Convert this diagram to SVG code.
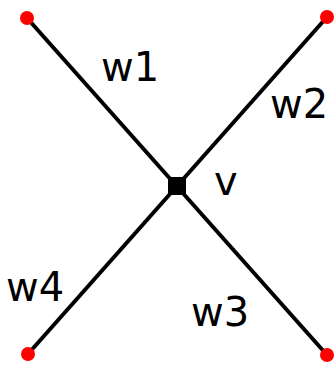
<svg xmlns="http://www.w3.org/2000/svg" width="336" height="365" viewBox="0 0 336 365">
<style>
.edge{stroke:#000;stroke-width:4;fill:none}
.dot{fill:#f00}
.lbl{font-family:"DejaVu Sans",sans-serif;font-size:40px;fill:#000}
</style>
<rect width="336" height="365" fill="#fff"/>
<g id="connectors">
<line class="edge" x1="27" y1="18" x2="327" y2="355"/>
<line class="edge" x1="327" y1="17" x2="28" y2="354"/>
</g>
<g id="n1"><circle class="dot" cx="27" cy="18" r="7"/></g>
<g id="n2"><circle class="dot" cx="327" cy="17" r="7"/></g>
<g id="n3"><circle class="dot" cx="327" cy="355" r="7"/></g>
<g id="n4"><circle class="dot" cx="28" cy="354" r="7"/></g>
<g id="v"><rect x="168" y="177" width="18" height="18" fill="#000"/></g>
<g id="labels">
<text class="lbl" x="101" y="81">w1</text>
<text class="lbl" x="270" y="118">w2</text>
<text class="lbl" x="214" y="195">v</text>
<text class="lbl" x="191" y="326">w3</text>
<text class="lbl" x="6" y="301">w4</text>
</g>
</svg>
